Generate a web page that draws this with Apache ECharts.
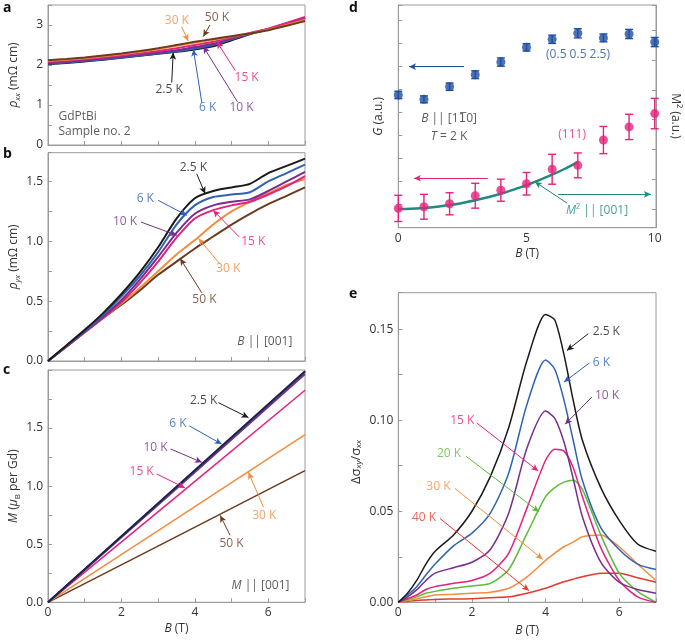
<!DOCTYPE html>
<html><head><meta charset="utf-8">
<script src="https://cdn.jsdelivr.net/npm/echarts@6/dist/echarts.min.js"></script>
<style>html,body{margin:0;background:#fff}#c{width:685px;height:640px}</style>
</head><body><div id="c"></div>
<script>
const FONT = '"Open Sans", "DejaVu Sans", sans-serif';

// ---------- Panel a: rho_xx (mOhm cm) vs B (T) ----------
const xsA = [0,0.5,1,1.5,2,2.5,3,3.5,4,4.5,5,5.5,6,6.5,7];
const a_2p5K = [2.02,2.05,2.09,2.13,2.18,2.23,2.28,2.33,2.39,2.47,2.62,2.77,2.89,3.03,3.17];
const a_6K   = [2.03,2.06,2.10,2.14,2.19,2.24,2.29,2.34,2.41,2.50,2.64,2.78,2.90,3.03,3.17];
const a_10K  = [2.05,2.08,2.12,2.16,2.21,2.26,2.31,2.37,2.45,2.53,2.66,2.79,2.90,3.04,3.18];
const a_15K  = [2.08,2.11,2.15,2.19,2.24,2.29,2.35,2.42,2.50,2.58,2.69,2.80,2.91,3.05,3.20];
const a_30K  = [2.10,2.13,2.17,2.22,2.27,2.33,2.40,2.48,2.56,2.63,2.71,2.79,2.88,3.00,3.13];
const a_50K  = [2.12,2.15,2.19,2.24,2.29,2.35,2.42,2.50,2.58,2.65,2.72,2.79,2.87,2.98,3.10];

// ---------- Panel b: rho_yx (mOhm cm) vs B (T) ----------
const xsB = [0,0.5,1,1.5,2,2.5,3,3.5,4,4.5,5,5.5,6,6.5,7];
const b_2p5K = [0,0.13,0.26,0.40,0.56,0.74,0.95,1.19,1.36,1.42,1.45,1.48,1.57,1.63,1.69];
const b_6K   = [0,0.125,0.25,0.385,0.54,0.71,0.91,1.14,1.30,1.37,1.39,1.41,1.50,1.57,1.64];
const b_10K  = [0,0.122,0.244,0.37,0.51,0.68,0.87,1.07,1.23,1.30,1.33,1.35,1.42,1.50,1.58];
const b_15K  = [0,0.12,0.24,0.36,0.49,0.65,0.83,1.03,1.19,1.26,1.30,1.33,1.39,1.46,1.545];
const b_30K  = [0,0.12,0.24,0.36,0.48,0.61,0.75,0.89,1.01,1.14,1.25,1.33,1.40,1.47,1.52];
const b_50K  = [0,0.12,0.24,0.36,0.47,0.59,0.72,0.83,0.94,1.04,1.14,1.23,1.31,1.38,1.45];

// ---------- Panel c: M (muB per Gd) vs B (T) ----------
const xsC = [0,3.5,7];
const c_2p5K = [0,0.995,1.99];
const c_6K   = [0,0.99,1.985];
const c_10K  = [0,0.98,1.965];
const c_15K  = [0,0.91,1.826];
const c_30K  = [0,0.72,1.443];
const c_50K  = [0,0.565,1.134];

// ---------- Panel d: G (a.u.) and M^2 (a.u.) vs B (T) ----------
const xsD = [0,1,2,3,4,5,6,7,8,9,10];
const d_G0552p5    = [5.77,5.58,6.13,6.65,7.20,7.84,8.19,8.45,8.25,8.42,8.07];
const d_G0552p5Err = [0.16,0.15,0.16,0.17,0.18,0.16,0.18,0.20,0.17,0.20,0.20];
const d_G111       = [0.84,0.91,1.04,1.39,1.63,1.91,2.54,2.71,3.81,4.38,4.96];
const d_G111Err    = [0.57,0.54,0.48,0.54,0.48,0.49,0.65,0.54,0.59,0.55,0.66];
const xsM2 = [0,0.5,1,1.5,2,2.5,3,3.5,4,4.5,5,5.5,6,6.5,7];
const d_M2 = [0,0.01,0.03,0.07,0.13,0.2,0.29,0.39,0.51,0.65,0.80,0.97,1.15,1.35,1.57];

// ---------- Panel e: delta sigma_xy / sigma_xx vs B (T) ----------
const xsE = [0,0.25,0.5,0.75,1,1.5,2,2.5,3,3.5,4,4.25,4.5,4.75,5,5.5,6,6.5,7];
const e_2p5K = [0,0.005,0.012,0.021,0.028,0.037,0.05,0.069,0.096,0.133,0.158,0.155,0.136,0.111,0.089,0.063,0.045,0.032,0.028];
const e_6K   = [0,0.004,0.0086,0.015,0.021,0.031,0.038,0.049,0.071,0.109,0.133,0.128,0.111,0.089,0.067,0.041,0.029,0.021,0.018];
const e_10K  = [0,0.003,0.0068,0.012,0.016,0.019,0.022,0.029,0.049,0.085,0.105,0.101,0.088,0.068,0.047,0.022,0.011,0.007,0.005];
const e_15K  = [0,0.002,0.004,0.007,0.0086,0.0104,0.012,0.016,0.027,0.052,0.078,0.084,0.083,0.074,0.058,0.030,0.012,0.003,0];
const e_20K  = [0,0.0015,0.003,0.005,0.006,0.0077,0.009,0.0104,0.018,0.038,0.058,0.063,0.066,0.067,0.062,0.037,0.016,0.006,0];
const e_30K  = [0,0.001,0.002,0.003,0.004,0.0044,0.005,0.0055,0.0077,0.014,0.023,0.027,0.0305,0.033,0.036,0.037,0.0305,0.021,0.012];
const e_40K  = [0,0.0005,0.001,0.0013,0.0016,0.0018,0.002,0.0025,0.003,0.005,0.0077,0.0095,0.0113,0.0127,0.014,0.016,0.016,0.0135,0.011];

// ---------- colours ----------
const C = {
  k:'#1a1a1a', b6:'#2f62b0', p10:'#7a2d8c', m15:'#e2227d', o30:'#f28c3f', br50:'#6a3b1e',
  g20:'#5dba3b', r40:'#e63a2e', dblue:'#1e4fa0', dpink:'#e3237c', teal:'#1f8a7d', txt:'#333'
};

// ---------- annotations (data coordinates) ----------
const textsA = [[3.51,3.11,'30 K',C.o30],[4.6,3.19,'50 K',C.br50],[3.30,1.375,'2.5 K',C.k],
  [4.35,0.94,'6 K',C.b6],[5.27,0.94,'10 K',C.p10],[5.41,1.69,'15 K',C.m15],
  [0.27,0.71,'GdPtBi',C.txt,'right'],[0.27,0.33,'Sample no. 2',C.txt,'right']];
const arrowsA = [[3.64,2.96,3.82,2.6,C.o30],[4.41,3.0,4.23,2.71,C.br50],[3.37,1.56,3.41,2.31,C.k],
  [4.19,1.06,3.96,2.39,C.b6],[5.16,1.08,4.23,2.46,C.p10],[5.10,1.86,4.60,2.58,C.m15]];
const textsB = [[3.96,1.614,'2.5 K',C.k],[2.65,1.356,'6 K',C.b6],[2.10,1.161,'10 K',C.p10],
  [5.59,0.994,'15 K',C.m15],[4.91,0.773,'30 K',C.o30],[4.26,0.514,'50 K',C.br50],
  [6.67,0.161,'{i|B} || [001]',C.txt,'left']];
const arrowsB = [[4.05,1.564,4.28,1.398,C.k],[3.0,1.342,3.78,1.217,C.b6],[2.53,1.161,3.51,1.05,C.p10],
  [5.21,1.036,4.50,1.258,C.m15],[4.69,0.808,4.10,1.023,C.o30],[4.19,0.569,3.60,0.856,C.br50]];
const textsC = [[4.24,1.733,'2.5 K',C.k],[3.54,1.539,'6 K',C.b6],[2.93,1.333,'10 K',C.p10],
  [2.55,1.128,'15 K',C.m15],[5.89,0.748,'30 K',C.o30],[5.0,0.506,'50 K',C.br50],
  [6.59,0.148,'{i|M} || [001]',C.txt,'left']];
const arrowsC = [[4.64,1.719,5.46,1.59,C.k],[3.85,1.519,4.73,1.362,C.b6],[3.34,1.32,4.19,1.205,C.p10],
  [2.96,1.105,3.73,0.985,C.m15],[5.87,0.819,5.46,1.119,C.o30],[4.96,0.577,4.69,0.748,C.br50]];
const textsD = [[7.01,7.51,'(0.5 0.5 2.5)',C.dblue],[6.78,4.03,'(111)',C.dpink],
  [1.98,4.76,'{i|B} || [11\u03050]',C.txt],[1.98,3.96,'{i|T} = 2 K',C.txt],
  [7.75,0.74,'{i|M}\u00b2 || [001]',C.teal]];
const arrowsD = [[2.56,7.0,0.42,7.0,C.dblue],[3.49,2.15,0.61,2.15,C.dpink],
  [6.23,1.45,9.85,1.45,C.teal],[6.58,1.07,5.33,1.99,C.teal]];
const textsE = [[5.65,0.1489,'2.5 K',C.k],[5.52,0.1319,'6 K',C.b6],[5.67,0.1137,'10 K',C.p10],
  [1.74,0.0999,'15 K',C.m15],[1.38,0.0817,'20 K',C.g20],[1.09,0.0634,'30 K',C.o30],[0.70,0.0466,'40 K',C.r40]];
const arrowsE = [[5.16,0.1475,4.58,0.1383,C.k],[5.19,0.1314,4.50,0.1209,C.b6],[5.26,0.1127,4.53,0.0978,C.p10],
  [2.13,0.0985,3.80,0.0721,C.m15],[1.84,0.0802,3.82,0.0497,C.g20],[1.54,0.0625,3.92,0.0237,C.o30],
  [1.13,0.0461,3.55,0.0064,C.r40]];

// ---------- helpers ----------
const RICH = {
  i:{fontStyle:'italic'},
  s:{fontStyle:'italic', fontSize:8, verticalAlign:'bottom'},
  r:{fontSize:8, verticalAlign:'bottom'}
};
const zip = (xs, ys) => xs.map((x,i)=>[x, ys[i]]);
const AX = '#9a9a9a';
function valAxis(extra){
  return Object.assign({
    type:'value',
    axisLine:{show:true, lineStyle:{color:AX, width:1}},
    axisTick:{show:true, inside:true, length:4, lineStyle:{color:AX}},
    minorTick:{show:false},
    splitLine:{show:false},
    axisLabel:{color:C.txt, fontSize:12, fontFamily:FONT, margin:5},
    nameTextStyle:{color:C.txt, fontSize:12, fontFamily:FONT, lineHeight:16, rich:RICH}
  }, extra);
}
function minor(n){ return {show:true, splitNumber:n, length:4, lineStyle:{color:AX}}; }
function lineSeries(gi, yi, xs, ys, color, w, smooth){
  return {type:'line', xAxisIndex:gi, yAxisIndex:yi, data:zip(xs,ys), showSymbol:false, symbol:'none',
    smooth: smooth===undefined ? 0.25 : smooth,
    lineStyle:{color, width:w}, itemStyle:{color}, silent:true, z:3};
}
function annSeries(gi, yi, texts, arrows){
  return {type:'scatter', xAxisIndex:gi, yAxisIndex:yi, symbolSize:1, itemStyle:{color:'transparent'}, silent:true, z:10,
    data: texts.map(t=>({value:[t[0],t[1]], label:{show:true, position:t[4]||'inside', distance:0,
      formatter:t[2], color:t[3], fontSize:12, fontFamily:FONT, rich:RICH}})),
    markLine:{silent:true, animation:false, symbol:['none','arrow'], symbolSize:[5,7], label:{show:false},
      emphasis:{disabled:true},
      data: arrows.map(a=>[{coord:[a[0],a[1]], lineStyle:{color:a[4], width:1, type:'solid'}, itemStyle:{color:a[4]}},
                           {coord:[a[2],a[3]]}])}
  };
}
function errSeries(gi, yi, xs, ys, es, color){
  return {type:'custom', xAxisIndex:gi, yAxisIndex:yi, silent:true, z:4,
    data: xs.map((x,i)=>[x, ys[i], es[i]]),
    renderItem:(p, api)=>{
      const x=api.value(0), y=api.value(1), e=api.value(2);
      const t=api.coord([x,y+e]), b=api.coord([x,y-e]); const w=4;
      const st={stroke:color, lineWidth:1.4};
      return {type:'group', children:[
        {type:'line', shape:{x1:t[0],y1:t[1],x2:b[0],y2:b[1]}, style:st},
        {type:'line', shape:{x1:t[0]-w,y1:t[1],x2:t[0]+w,y2:t[1]}, style:st},
        {type:'line', shape:{x1:b[0]-w,y1:b[1],x2:b[0]+w,y2:b[1]}, style:st}
      ]};
    }};
}
const fmtEven = v => (Math.abs(v/2-Math.round(v/2))<1e-6) ? String(Math.round(v)) : '';
const fmtStep = (step, dig, hideAbove) => v => {
  const k=v/step; if (Math.abs(k-Math.round(k))>1e-6) return ''; if (hideAbove!==undefined && v>hideAbove-1e-9) return '';
  return v.toFixed(dig);
};
const nameB = '{i|B} (T)';
const grid = (l,t,w,h)=>({left:l, top:t, width:w, height:h, show:true, borderColor:AX, borderWidth:1, containLabel:false});

const option = {
  backgroundColor:'#fff',
  animation:false,
  textStyle:{fontFamily:FONT},
  grid:[grid(48,5,257,140), grid(48,152.7,257,208.3), grid(48,370,257,232.3),
        grid(398.3,5,257.7,222.7), grid(398.3,292.7,257.7,309.6)],
  xAxis:[
    valAxis({gridIndex:0, min:0, max:7, interval:1, axisLabel:{show:false}}),
    valAxis({gridIndex:1, min:0, max:7, interval:1, axisLabel:{show:false}}),
    valAxis({gridIndex:2, min:0, max:7, interval:1, axisLabel:{color:C.txt, fontSize:12, fontFamily:FONT, margin:4, formatter:fmtEven},
      name:nameB, nameLocation:'middle', nameGap:18}),
    valAxis({gridIndex:3, min:0, max:10.05, interval:5, axisTick:{show:false},
      axisLabel:{color:C.txt, fontSize:12, fontFamily:FONT, margin:5, formatter:fmtStep(5,0)},
      name:nameB, nameLocation:'middle', nameGap:17}),
    valAxis({gridIndex:4, min:0, max:7, interval:1, axisLabel:{color:C.txt, fontSize:12, fontFamily:FONT, margin:4, formatter:fmtEven},
      name:nameB, nameLocation:'middle', nameGap:20})
  ],
  yAxis:[
    valAxis({gridIndex:0, min:0, max:3.5, interval:1, minorTick:minor(2),
      axisLabel:{color:C.txt, fontSize:12, fontFamily:FONT, margin:5, formatter:fmtStep(1,0)},
      name:'{i|ρ}{s|xx} (mΩ cm)', nameLocation:'middle', nameGap:26, nameRotate:90}),
    valAxis({gridIndex:1, min:0, max:1.74, interval:0.5, minorTick:minor(2),
      axisLabel:{color:C.txt, fontSize:12, fontFamily:FONT, margin:5, formatter:fmtStep(0.5,1)},
      name:'{i|ρ}{s|yx} (mΩ cm)', nameLocation:'middle', nameGap:26, nameRotate:90}),
    valAxis({gridIndex:2, min:0, max:2.0, interval:0.5, minorTick:minor(2),
      axisLabel:{color:C.txt, fontSize:12, fontFamily:FONT, margin:5, formatter:fmtStep(0.5,1,2.0)},
      name:'{i|M} ({i|μ}{r|B} per Gd)', nameLocation:'middle', nameGap:26, nameRotate:90}),
    valAxis({gridIndex:3, min:0, max:9.68, interval:1, axisLabel:{show:false},
      name:'{i|G} (a.u.)', nameLocation:'middle', nameGap:12, nameRotate:90}),
    valAxis({gridIndex:3, position:'right', min:-0.63, max:6.85, splitNumber:7, axisLabel:{show:false}}),
    valAxis({gridIndex:4, min:0, max:0.17, interval:0.05, minorTick:minor(2),
      axisLabel:{color:C.txt, fontSize:12, fontFamily:FONT, margin:5, formatter:fmtStep(0.05,2)}})
  ],
  graphic:[
    {type:'text', left:3, top:1, style:{text:'a', font:'bold 14px '+FONT, fill:'#111'}},
    {type:'text', left:3, top:147, style:{text:'b', font:'bold 14px '+FONT, fill:'#111'}},
    {type:'text', left:3, top:363, style:{text:'c', font:'bold 14px '+FONT, fill:'#111'}},
    {type:'text', left:349, top:1, style:{text:'d', font:'bold 14px '+FONT, fill:'#111'}},
    {type:'text', left:349, top:287, style:{text:'e', font:'bold 14px '+FONT, fill:'#111'}},
    {type:'text', x:675, y:116, rotation:-Math.PI/2,
      style:{text:'{i|M}\u00b2 (a.u.)', rich:RICH, fontSize:12, fontFamily:FONT, fill:C.txt, align:'center', verticalAlign:'middle'}},
    {type:'text', x:356, y:462, rotation:Math.PI/2,
      style:{text:'Δ{i|σ}{s|xy}/{i|σ}{s|xx}', rich:RICH, fontSize:13, fontFamily:FONT, fill:C.txt, align:'center', verticalAlign:'middle'}}
  ],
  series:[
    // a
    lineSeries(0,0,xsA,a_2p5K,C.k,2), lineSeries(0,0,xsA,a_6K,C.b6,2), lineSeries(0,0,xsA,a_10K,C.p10,2),
    lineSeries(0,0,xsA,a_15K,C.m15,2), lineSeries(0,0,xsA,a_30K,C.o30,2), lineSeries(0,0,xsA,a_50K,C.br50,2),
    annSeries(0,0,textsA,arrowsA),
    // b
    lineSeries(1,1,xsB,b_50K,C.br50,2), lineSeries(1,1,xsB,b_30K,C.o30,2), lineSeries(1,1,xsB,b_15K,C.m15,2),
    lineSeries(1,1,xsB,b_10K,C.p10,2), lineSeries(1,1,xsB,b_6K,C.b6,2), lineSeries(1,1,xsB,b_2p5K,C.k,2),
    annSeries(1,1,textsB,arrowsB),
    // c
    lineSeries(2,2,xsC,c_50K,C.br50,1.5,0), lineSeries(2,2,xsC,c_30K,C.o30,1.5,0), lineSeries(2,2,xsC,c_15K,C.m15,1.5,0),
    lineSeries(2,2,xsC,c_10K,C.p10,2,0), lineSeries(2,2,xsC,c_6K,C.b6,2,0), lineSeries(2,2,xsC,c_2p5K,'#222244',2,0),
    annSeries(2,2,textsC,arrowsC),
    // d
    lineSeries(3,4,xsM2,d_M2,C.teal,2.5,0.3),
    errSeries(3,3,xsD,d_G0552p5,d_G0552p5Err,C.dblue),
    {type:'scatter', xAxisIndex:3, yAxisIndex:3, data:zip(xsD,d_G0552p5), symbolSize:9, itemStyle:{color:C.dblue}, silent:true, z:5},
    errSeries(3,3,xsD,d_G111,d_G111Err,C.dpink),
    {type:'scatter', xAxisIndex:3, yAxisIndex:3, data:zip(xsD,d_G111), symbolSize:9, itemStyle:{color:C.dpink}, silent:true, z:5},
    annSeries(3,3,textsD,arrowsD),
    // e
    lineSeries(4,5,xsE,e_40K,C.r40,1.5), lineSeries(4,5,xsE,e_30K,C.o30,1.5), lineSeries(4,5,xsE,e_20K,C.g20,1.5),
    lineSeries(4,5,xsE,e_15K,C.m15,1.5), lineSeries(4,5,xsE,e_10K,C.p10,1.5), lineSeries(4,5,xsE,e_6K,C.b6,1.5),
    lineSeries(4,5,xsE,e_2p5K,C.k,1.5),
    annSeries(4,5,textsE,arrowsE)
  ]
};
const chart = echarts.init(document.getElementById('c'));
chart.setOption(option);
</script></body></html>
